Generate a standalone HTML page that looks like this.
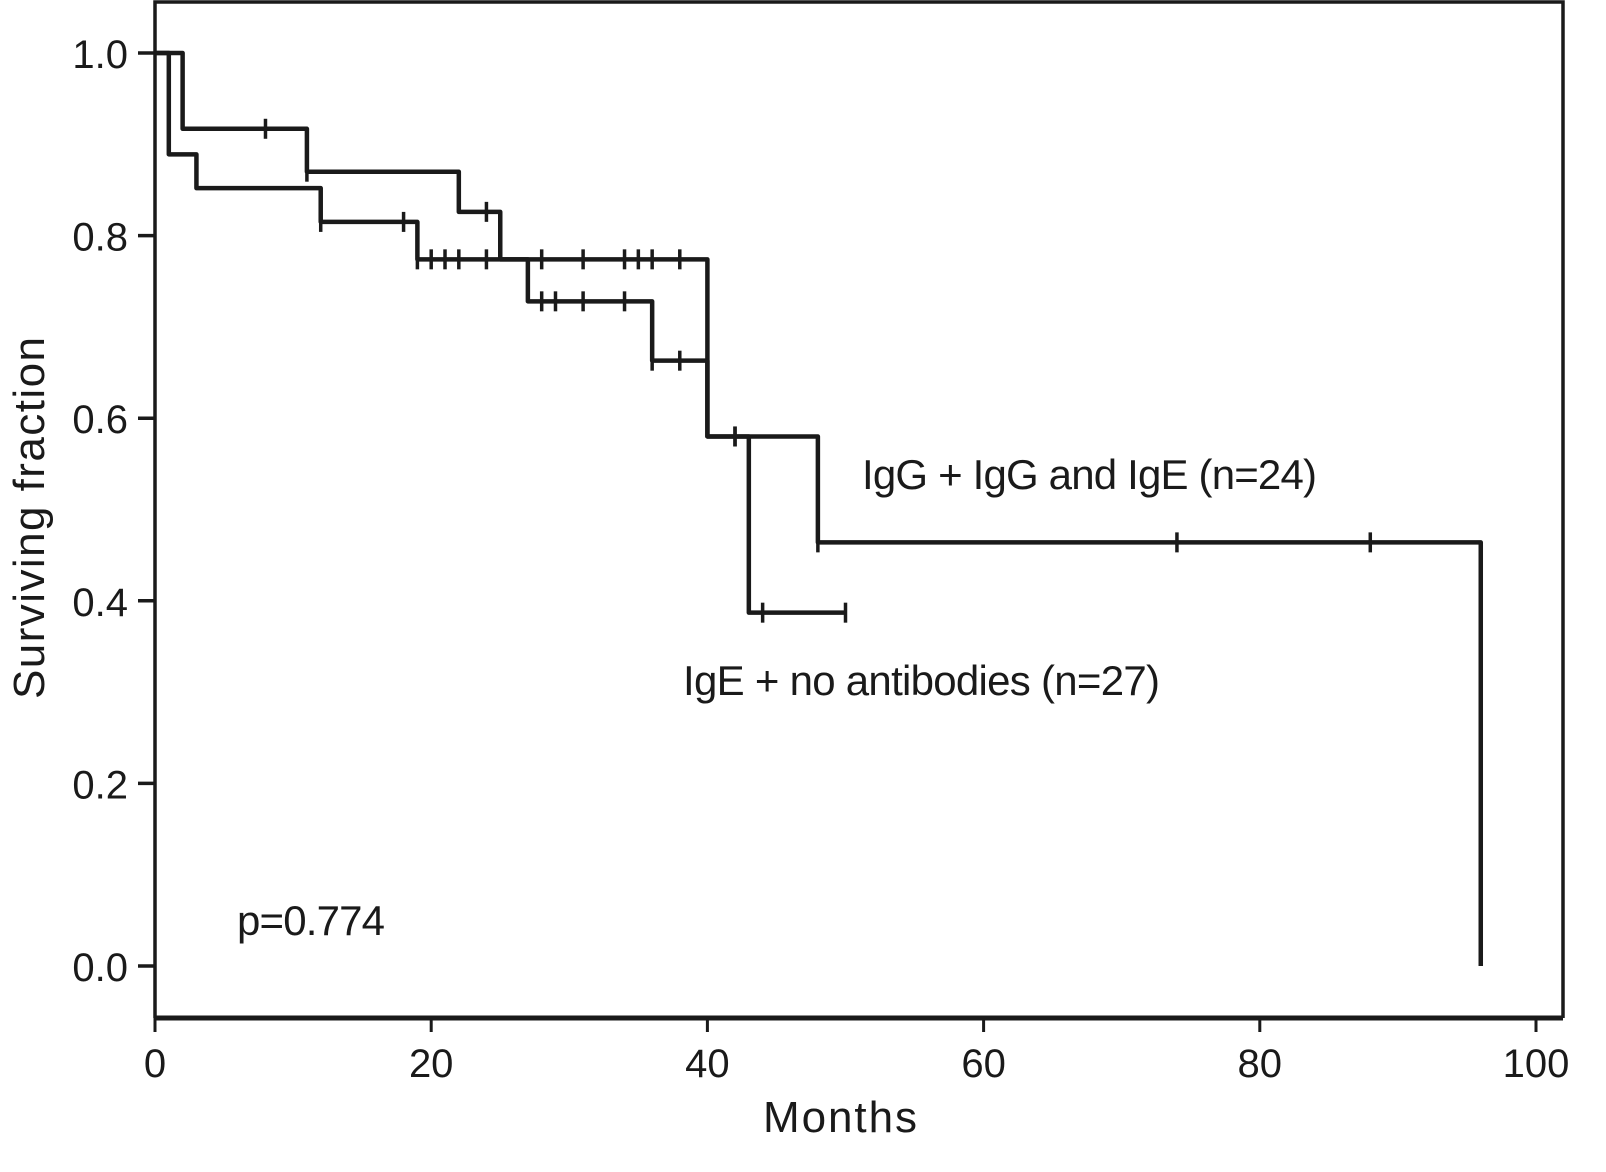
<!DOCTYPE html>
<html><head><meta charset="utf-8"><style>
html,body{margin:0;padding:0;background:#fff;}
svg{display:block;font-family:"Liberation Sans",Arial,sans-serif;}
</style></head><body>
<svg id="chart" width="1606" height="1172" viewBox="0 0 1606 1172" xmlns="http://www.w3.org/2000/svg">
<g id="frame"></g>
<g id="axes"></g>
<g id="series"></g>
<text x="0" y="0" transform="translate(44,518) rotate(-90)" text-anchor="middle" font-size="44" textLength="362" fill="#1a1a1a">Surviving fraction</text>
<text x="840" y="1132" text-anchor="middle" font-size="44" textLength="154" fill="#1a1a1a">Months</text>
<text x="862" y="489" font-size="42" textLength="455" fill="#1a1a1a">IgG + IgG and IgE (n=24)</text>
<text x="683" y="695" font-size="42" textLength="477" fill="#1a1a1a">IgE + no antibodies (n=27)</text>
<text x="237" y="935" font-size="42" textLength="148" fill="#1a1a1a">p=0.774</text>
</svg>
<script>
const xTicks=[0,20,40,60,80,100];
const yTicks=[0,0.2,0.4,0.6,0.8,1.0];
const yTickLabels=["0.0","0.2","0.4","0.6","0.8","1.0"];
const iggTimes=[0,2,11,22,25,40,48,96];
const iggSurv=[1.0,0.917,0.870,0.826,0.774,0.580,0.464,0.0];
const iggEnd=96;
const iggCensor=[8,11,24,28,31,34,35,36,38,42,48,74,88];
const igeTimes=[0,1,3,12,19,27,36,40,43];
const igeSurv=[1.0,0.889,0.852,0.815,0.774,0.728,0.663,0.580,0.387];
const igeEnd=50;
const igeCensor=[12,18,19,20,21,22,24,28,29,31,34,36,38,42,44,50];

const NS="http://www.w3.org/2000/svg";
const X=m=>155+13.81*m;
const Y=v=>966-913*v;
function mk(tag,attrs,parent){const e=document.createElementNS(NS,tag);for(const k in attrs)e.setAttribute(k,attrs[k]);parent.appendChild(e);return e;}
const frame=document.getElementById('frame'),axes=document.getElementById('axes'),series=document.getElementById('series');
const box=mk('path',{d:'M155,1018 V2 H1563 V1018',fill:'none',stroke:'#1a1a1a','stroke-width':3.5},frame);


const xl=mk('line',{x1:155,y1:1018,x2:1563,y2:1018,stroke:'#1a1a1a','stroke-width':5},axes);


xTicks.forEach(t=>{
 const l=mk('line',{x1:X(t),y1:1018,x2:X(t),y2:1032,stroke:'#1a1a1a','stroke-width':3},axes);
 
 
 const tx=mk('text',{x:X(t),y:1077,'text-anchor':'middle','font-size':40,fill:'#1a1a1a'},axes);
 tx.textContent=t;
 
 
});
yTicks.forEach((t,i)=>{
 const l=mk('line',{x1:138,y1:Y(t),x2:155,y2:Y(t),stroke:'#1a1a1a','stroke-width':3.5},axes);
 
 
 const tx=mk('text',{x:128,y:Y(t)+15,'text-anchor':'end','font-size':40,fill:'#1a1a1a'},axes);
 tx.textContent=yTickLabels[i];
 
 
});
function survAt(times,surv,t){let v=surv[0];for(let i=0;i<times.length;i++){if(times[i]<=t)v=surv[i];}return v;}
function survBefore(times,surv,t){let v=surv[0];for(let i=0;i<times.length;i++){if(times[i]<t)v=surv[i];}return v;}
function drawCurve(times,surv,end,censor,name){
 let d='M'+X(times[0])+','+Y(surv[0]);
 for(let i=1;i<times.length;i++){d+=' H'+X(times[i])+' V'+Y(surv[i]);}
 if(end>times[times.length-1])d+=' H'+X(end);
 const p=mk('path',{d:d,fill:'none',stroke:'#1a1a1a','stroke-width':4.5,'stroke-linejoin':'round'},series);
 
 
 censor.forEach(c=>{
  const v=times.includes(c)?survAt(times,surv,c):survBefore(times,surv,c);
  const m=mk('line',{x1:X(c),y1:Y(v)-10,x2:X(c),y2:Y(v)+10,stroke:'#1a1a1a','stroke-width':3.5},series);
  
  
 });
}
drawCurve(iggTimes,iggSurv,iggEnd,iggCensor,'igg');
drawCurve(igeTimes,igeSurv,igeEnd,igeCensor,'ige');
</script>
</body></html>
